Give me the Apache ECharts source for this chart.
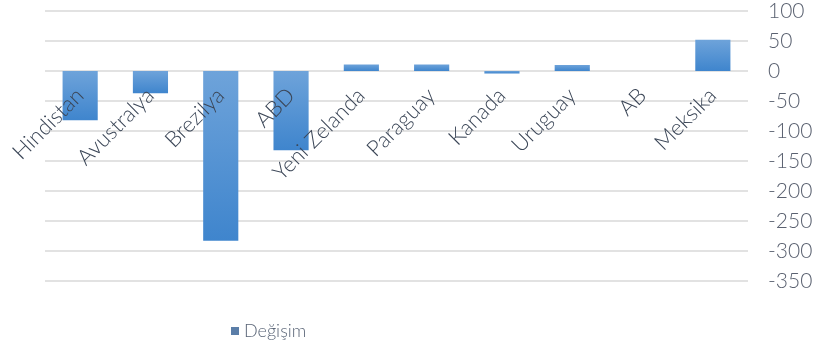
<!DOCTYPE html>
<html>
<head>
<meta charset="utf-8">
<script src="https://cdn.jsdelivr.net/npm/echarts@6/dist/echarts.min.js"></script>
<style>
  html, body { margin: 0; padding: 0; background: #fff; }
  #chart { width: 823px; height: 347px; }
</style>
</head>
<body>
<div id="chart"></div>
<script>
var countries = ['Hindistan', 'Avustralya', 'Brezilya', 'ABD', 'Yeni Zelanda', 'Paraguay', 'Kanada', 'Uruguay', 'AB', 'Meksika'];
var degisim = [-82, -37, -283, -132, 11, 11, -4, 10, 0, 52];
var yMin = -350, yMax = 100, yStep = 50;

var gridTop = 11, gridBottom = 66, chartH = 347;
var plotH = chartH - gridTop - gridBottom;
// category axis sits on the zero line
var zeroOffset = -plotH * (0 - yMin) / (yMax - yMin);

var dom = document.getElementById('chart');
var myChart = echarts.init(dom, null, { renderer: 'canvas' });

var option = {
  animation: false,
  textStyle: { fontFamily: 'Lato, "Noto Sans", sans-serif' },
  legend: {
    data: [{ name: 'Değişim', itemStyle: { color: '#5b7ea8' } }],
    left: 226,
    top: 317,
    itemWidth: 8,
    itemHeight: 8,
    itemGap: 4,
    icon: 'rect',
    textStyle: { fontSize: 18, color: '#5a6577', fontWeight: 300 }
  },
  grid: {
    left: 45,
    right: 75,
    top: gridTop,
    bottom: gridBottom,
    outerBoundsMode: 'none'
  },
  xAxis: {
    type: 'category',
    data: countries,
    offset: zeroOffset,
    z: 10,
    axisTick: { show: false },
    axisLine: { show: false, onZero: false },
    axisLabel: {
      rotate: 45,
      interval: 0,
      margin: 21,
      fontSize: 22,
      fontWeight: 300,
      color: '#3b4657'
    }
  },
  yAxis: {
    type: 'value',
    position: 'right',
    min: yMin,
    max: yMax,
    interval: yStep,
    axisLine: { show: false },
    axisTick: { show: false },
    splitLine: { lineStyle: { color: '#d9d9d9', width: 1.5 } },
    axisLabel: { fontSize: 21, fontWeight: 300, color: '#5a6170', margin: 20 }
  },
  series: [{
    name: 'Değişim',
    type: 'bar',
    barWidth: '50%',
    z: 2,
    data: degisim,
    itemStyle: {
      color: new echarts.graphic.LinearGradient(0, 0, 0, 1, [
        { offset: 0, color: '#6ea3da' },
        { offset: 1, color: '#3f85cd' }
      ])
    }
  }]
};

myChart.setOption(option);
</script>
</body>
</html>
